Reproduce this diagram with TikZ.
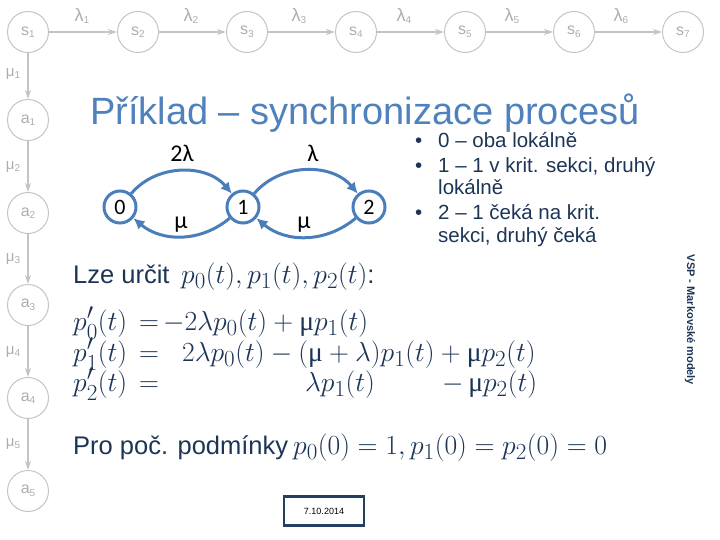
\documentclass[tikz,border=0pt]{standalone}
\usepackage{amsmath}
\usepackage{fontspec}
\setmainfont{Liberation Sans}
\newfontfamily\calib{Carlito}
\newfontfamily\greekserif{Liberation Serif}
\usetikzlibrary{arrows.meta}
\definecolor{lg}{HTML}{C4C4C4}
\definecolor{lgt}{HTML}{ADADAD}
\definecolor{ttl}{HTML}{4F81BD}
\definecolor{navy}{HTML}{1C3557}
\definecolor{dblue}{HTML}{4A7EBB}
\definecolor{boxc}{HTML}{243F60}
\newcommand{\sub}[2]{#1\raisebox{-0.3ex}{\fontsize{10}{10}\selectfont #2}}
\newcommand{\umu}{\mbox{\greekserif μ}}
\newcommand{\eqmx}[1]{\scalebox{1.11}{$#1$}}
\tikzset{
  gnode/.style={circle, draw=lg, line width=1pt, minimum size=41pt, inner sep=0pt, text=lgt, font=\fontsize{16}{16}\selectfont},
  garrow/.style={draw=lg, line width=1.6pt, -{Stealth[length=9pt,width=6pt]}},
  glabel/.style={text=lgt, inner sep=0pt, font=\fontsize{18}{18}\selectfont},
  mlabel/.style={text=lgt, inner sep=0pt, font=\fontsize{15}{15}\selectfont},
  bnode/.style={circle, draw=dblue, line width=3pt, minimum size=32pt, inner sep=0pt, font=\calib\fontsize{22}{22}\selectfont},
  barrow/.style={draw=dblue, line width=3pt, -{Latex[length=11pt,width=11pt]}},
  blabel/.style={inner sep=0pt, font=\calib\fontsize{24}{24}\selectfont},
  btext/.style={anchor=base west, inner sep=0pt, text=navy, font=\fontsize{20.5}{20.5}\selectfont},
  etext/.style={anchor=base west, inner sep=0pt, text=navy, font=\fontsize{25.5}{25.5}\selectfont},
  emath/.style={anchor=base west, inner sep=0pt, text=navy, font=\fontsize{24.88}{24.88}\selectfont},
}
\begin{document}
\begin{tikzpicture}[x=1pt,y=-1pt]
\useasboundingbox (0,0) rectangle (720,540);
% top row
\foreach \i/\x in {1/28,2/138,3/247,4/356,5/465,6/574,7/683}{
  \node[gnode] (s\i) at (\x,32) {\sub{s}{\i}};
}
\foreach \i/\j in {1/2,2/3,3/4,4/5,5/6,6/7}{
  \draw[garrow] (s\i) -- (s\j);
}
\foreach \i/\x in {1/82,2/191,3/299,4/404,5/512,6/621}{
  \node[glabel] (l\i) at (\x,16) {\sub{λ}{\i}};
}
% left column
\foreach \i/\y in {1/120,2/213,3/305,4/398,5/491}{
  \node[gnode] (a\i) at (28,\y) {\sub{a}{\i}};
}
\draw[garrow] (s1) -- (a1);
\draw[garrow] (a1) -- (a2);
\draw[garrow] (a2) -- (a3);
\draw[garrow] (a3) -- (a4);
\draw[garrow] (a4) -- (a5);
\foreach \i/\y in {1/74,2/167,3/259,4/352,5/444}{
  \node[mlabel] (m\i) at (13,\y) {\sub{μ}{\i}};
}
% title
\node[anchor=base west, inner sep=0pt, text=ttl, font=\fontsize{38}{38}\selectfont] (title) at (90,125) {Příklad – synchronizace procesů};
% state diagram
\node[bnode] (n0) at (120,207) {0};
\node[bnode] (n1) at (243,207) {1};
\node[bnode] (n2) at (369,207) {2};
\draw[barrow] (n0) to[out=50,in=130] (n1);
\draw[barrow] (n1) to[out=50,in=130] (n2);
\draw[barrow] (n1) to[out=-140,in=-40] (n0);
\draw[barrow] (n2) to[out=-140,in=-40] (n1);
\node[blabel] (k1) at (182,153) {2λ};
\node[blabel] (k2) at (313,153) {λ};
\node[blabel] (k3) at (181,225) {μ};
\node[blabel] (k4) at (304,225) {μ};
% bullets
\node[btext] (b1) at (415,148) {•};
\node[btext] (t1) at (438,148) {0 – oba lokálně};
\node[btext] (b2) at (415,173) {•};
\node[btext] (t2) at (438,173) {1 – 1 v krit. sekci, druhý};
\node[btext] (t3) at (438,195) {lokálně};
\node[btext] (b3) at (415,220) {•};
\node[btext] (t4) at (438,220) {2 – 1 čeká na krit.};
\node[btext] (t5) at (438,242) {sekci, druhý čeká};
% equations
\node[etext] (e0) at (73,283) {Lze určit};
\node[emath] (e0m) at (181,283) {\eqmx{p_0(t), p_1(t), p_2(t)}\fontsize{25.5}{25.5}\selectfont:};
\node[emath] (e1l) at (73,330) {\eqmx{p_0'(t)}};
\node[emath] (e1q) at (139,330) {\eqmx{=}};
\node[emath] (e1r) at (163,330) {\eqmx{-2\lambda p_0(t) + \umu p_1(t)}};
\node[emath] (e2l) at (73,361) {\eqmx{p_1'(t)}};
\node[emath] (e2q) at (139,361) {\eqmx{=}};
\node[emath] (e2r) at (182,361) {\eqmx{2\lambda p_0(t) - (\umu + \lambda)p_1(t) + \umu p_2(t)}};
\node[emath] (e3l) at (73,391) {\eqmx{p_2'(t)}};
\node[emath] (e3q) at (139,391) {\eqmx{=}};
\node[emath] (e3r) at (305,391) {\eqmx{\lambda p_1(t)}};
\node[emath] (e3s) at (442,391) {\eqmx{-\,\umu p_2(t)}};
\node[etext] (e4) at (73,454) {Pro poč. podmínky};
\node[emath] (e4m) at (293,454) {\eqmx{p_0(0) = 1, p_1(0) = p_2(0) = 0}};
% date box
\node[draw=boxc, line width=2.5pt, minimum width=80pt, minimum height=29pt, inner sep=0pt, font=\fontsize{9}{9}\selectfont] (date) at (324,511) {7.10.2014};
% vertical footer
\node[rotate=-90, inner sep=0pt, text=navy, font=\bfseries\fontsize{11}{11}\selectfont] (foot) at (690,320) {VSP - Markovské modely};
\end{tikzpicture}
\end{document}
